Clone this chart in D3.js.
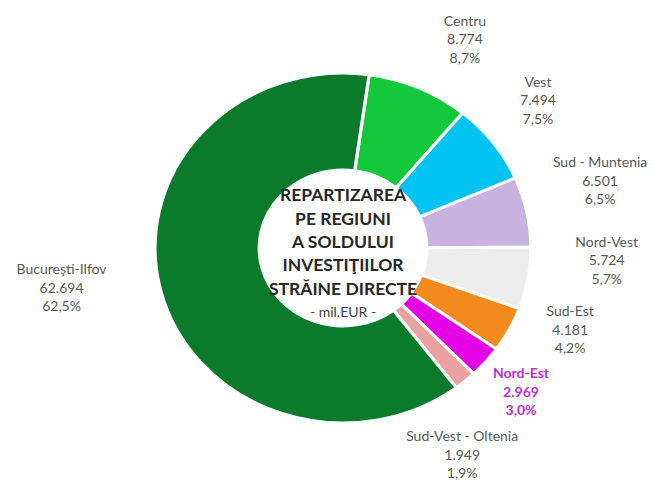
<!DOCTYPE html>
<html>
<head>
<meta charset="utf-8">
<script src="https://cdn.jsdelivr.net/npm/d3@7"></script>
<style>
  html, body { margin: 0; padding: 0; background: #fff; }
  svg text { font-family: Lato, "Open Sans", sans-serif; }
</style>
</head>
<body>
<div id="chart"></div>
<script>
// regiuni, valori (mil. EUR) si ponderi
const regions = ['Centru', 'Vest', 'Sud - Muntenia', 'Nord-Vest', 'Sud-Est', 'Nord-Est', 'Sud-Vest - Oltenia', 'Bucureşti-Ilfov']
const values = [8774, 7494, 6501, 5724, 4181, 2969, 1949, 62694]
const valueLabels = ['8.774', '7.494', '6.501', '5.724', '4.181', '2.969', '1.949', '62.694']
const shareLabels = ['8,7%', '7,5%', '6,5%', '5,7%', '4,2%', '3,0%', '1,9%', '62,5%']
const colors = ['#14c83c', '#00c3f1', '#c9b2df', '#ececec', '#f28a1e', '#e400e4', '#e8a2a2', '#0a7b2b']
const titleLines = ['REPARTIZAREA', 'PE REGIUNI', 'A SOLDULUI', 'INVESTIŢIILOR', 'STRĂINE DIRECTE']
const subtitle = '- mil.EUR -'

const width = 653
const height = 483
const cx = 343
const cy = 248
const outerR = 175
const innerR = 78
const stretchX = 1.074 // imaginea originala e putin latita pe orizontala
const startAngle = 8 * Math.PI / 180
const labelR = 238

// mici ajustari ale etichetelor, ca in Excel (mutate manual)
const labelNudge = {
  'Centru': [19, 9],
  'Vest': [-9, -4],
  'Sud - Muntenia': [7, -18],
  'Nord-Vest': [12, -29],
  'Sud-Est': [1, -29],
  'Nord-Est': [-16, -11],
  'Sud-Vest - Oltenia': [-47, 26],
  'Bucureşti-Ilfov': [-34, -20]
}

const data = regions.map((r, i) => ({
  region: r, value: values[i], valueLabel: valueLabels[i], share: shareLabels[i], color: colors[i]
}))

const svg = d3.select('#chart').append('svg')
  .attr('width', width)
  .attr('height', height)

const pie = d3.pie()
  .value(d => d.value)
  .sort(null)
  .startAngle(startAngle)
  .endAngle(startAngle + 2 * Math.PI)

const arc = d3.arc()
  .innerRadius(innerR)
  .outerRadius(outerR)

const arcs = pie(data)

const ring = svg.append('g')
  .attr('transform', 'translate(' + cx + ',' + cy + ') scale(' + stretchX + ',1)')

ring.selectAll('path')
  .data(arcs)
  .enter()
  .append('path')
  .attr('d', arc)
  .attr('fill', d => d.data.color)
  .attr('stroke', '#fff')
  .attr('stroke-width', 3)
  .attr('stroke-linejoin', 'round')

// etichete exterioare
const lineH = 18.5
const labels = svg.append('g')
arcs.forEach(a => {
  const mid = (a.startAngle + a.endAngle) / 2
  const nudge = labelNudge[a.data.region] || [0, 0]
  const x = cx + Math.sin(mid) * labelR * stretchX + nudge[0]
  const y = cy - Math.cos(mid) * labelR + nudge[1]
  const isNE = a.data.region === 'Nord-Est'
  const t = labels.append('text')
    .attr('x', x)
    .attr('y', y)
    .attr('text-anchor', 'middle')
    .attr('font-size', 14)
    .attr('fill', isNE ? '#bb33cc' : '#595959')
    .attr('font-weight', isNE ? 700 : 400)
  const lines = [a.data.region, a.data.valueLabel, a.data.share]
  lines.forEach((l, i) => {
    t.append('tspan')
      .attr('x', x)
      .attr('y', y + (i - 1) * lineH)
      .attr('dy', '0.35em')
      .text(l)
  })
})

// titlul din mijloc
const titleY = 195
const titleH = 23.4
const title = svg.append('g')
titleLines.forEach((l, i) => {
  title.append('text')
    .attr('x', cx)
    .attr('y', titleY + i * titleH)
    .attr('dy', '0.35em')
    .attr('text-anchor', 'middle')
    .attr('font-size', 17.5)
    .attr('font-weight', 700)
    .attr('fill', '#262626')
    .text(l)
})
title.append('text')
  .attr('x', cx)
  .attr('y', titleY + titleLines.length * titleH)
  .attr('dy', '0.35em')
  .attr('text-anchor', 'middle')
  .attr('font-size', 14)
  .attr('fill', '#404040')
  .text(subtitle)
</script>
</body>
</html>
